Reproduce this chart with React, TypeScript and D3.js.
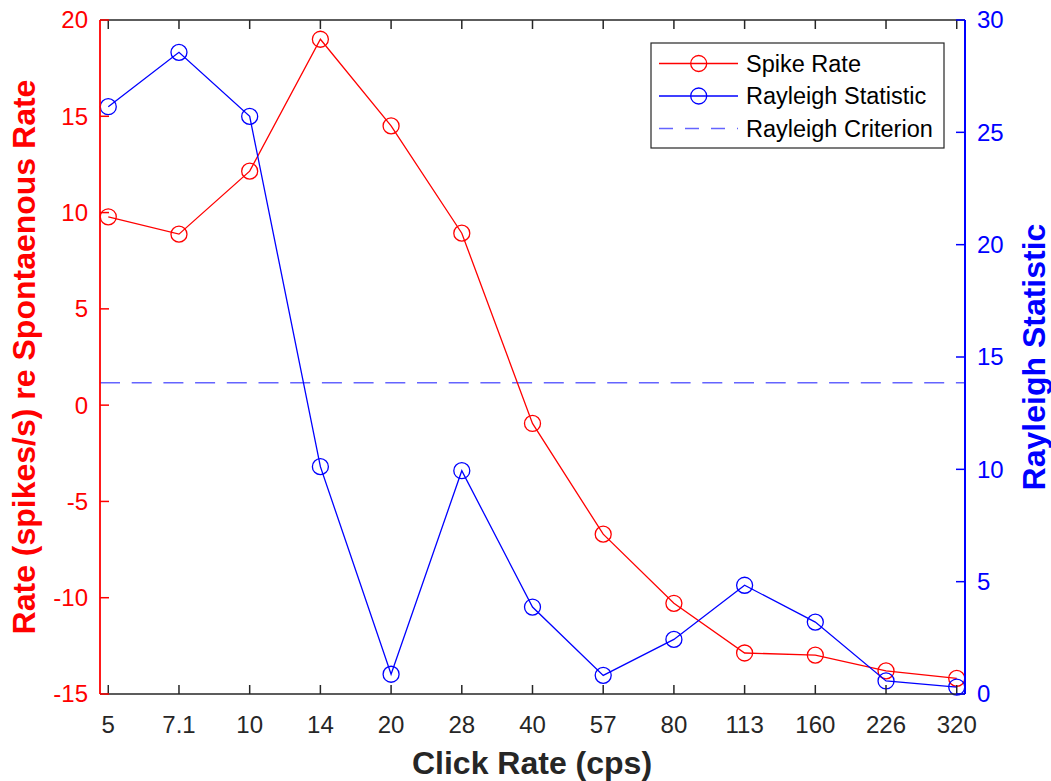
import React from "react";
import * as d3 from "d3";

// Click rates (cps) on a categorical axis
const clickRates = ["5", "7.1", "10", "14", "20", "28", "40", "57", "80", "113", "160", "226", "320"];
// Driven rate relative to spontaneous rate (spikes/s), left axis
const spikeRate = [9.78, 8.88, 12.15, 19.0, 14.5, 8.93, -0.95, -6.7, -10.29, -12.87, -12.98, -13.8, -14.19];
// Rayleigh statistic of phase locking, right axis
const rayleighStat = [26.14, 28.56, 25.71, 10.12, 0.88, 9.94, 3.87, 0.83, 2.43, 4.84, 3.2, 0.58, 0.31];
// Significance criterion for the Rayleigh statistic
const rayleighCriterion = 13.85;

const leftTicks = [-15, -10, -5, 0, 5, 10, 15, 20];
const rightTicks = [0, 5, 10, 15, 20, 25, 30];

const legendItems = [
  { label: "Spike Rate", color: "#ff0000", dashed: false },
  { label: "Rayleigh Statistic", color: "#0000ff", dashed: false },
  { label: "Rayleigh Criterion", color: "#6464ff", dashed: true },
];

const W = 1051;
const H = 781;
const L = 100;
const R = 965;
const T = 20;
const B = 694;
const FONT = "'Liberation Sans', Arial, Helvetica, sans-serif";
const AXIS_GREY = "#262626";

export default function App() {
  const x = d3.scaleLinear().domain([-0.117, clickRates.length - 1 + 0.117]).range([L, R]);
  const yL = d3.scaleLinear().domain([-15, 20]).range([B, T]);
  const yR = d3.scaleLinear().domain([0, 30]).range([B, T]);

  const spikeLine = d3
    .line<number>()
    .x((_, i) => x(i))
    .y((d) => yL(d));
  const rayLine = d3
    .line<number>()
    .x((_, i) => x(i))
    .y((d) => yR(d));

  return (
    <svg
      width={W}
      height={H}
      viewBox={`0 0 ${W} ${H}`}
      style={{ position: "absolute", left: 0, top: 0, background: "#fff" }}
      fontFamily={FONT}
    >
      <rect x={0} y={0} width={W} height={H} fill="#fff" />

      {/* criterion line */}
      <line
        x1={L}
        x2={R}
        y1={yR(rayleighCriterion)}
        y2={yR(rayleighCriterion)}
        stroke="#6464ff"
        strokeWidth={1.5}
        strokeDasharray="20 11.7"
      />

      {/* spike rate series */}
      <path d={spikeLine(spikeRate) || ""} fill="none" stroke="#ff0000" strokeWidth={1.3} />
      {spikeRate.map((v, i) => (
        <circle key={`s${i}`} cx={x(i)} cy={yL(v)} r={8} fill="none" stroke="#ff0000" strokeWidth={1.3} />
      ))}

      {/* Rayleigh statistic series */}
      <path d={rayLine(rayleighStat) || ""} fill="none" stroke="#0000ff" strokeWidth={1.3} />
      {rayleighStat.map((v, i) => (
        <circle key={`r${i}`} cx={x(i)} cy={yR(v)} r={8} fill="none" stroke="#0000ff" strokeWidth={1.3} />
      ))}

      {/* top and bottom axes */}
      <line x1={L} x2={R} y1={B} y2={B} stroke={AXIS_GREY} strokeWidth={1.5} />
      <line x1={L} x2={R} y1={T} y2={T} stroke={AXIS_GREY} strokeWidth={1.5} />
      {clickRates.map((c, i) => (
        <g key={`xt${i}`}>
          <line x1={x(i)} x2={x(i)} y1={B} y2={B - 9} stroke={AXIS_GREY} strokeWidth={1.5} />
          <line x1={x(i)} x2={x(i)} y1={T} y2={T + 9} stroke={AXIS_GREY} strokeWidth={1.5} />
          <text x={x(i)} y={733} textAnchor="middle" fontSize={24} fill={AXIS_GREY}>
            {c}
          </text>
        </g>
      ))}

      {/* left axis */}
      <line x1={L} x2={L} y1={T} y2={B} stroke="#ff0000" strokeWidth={1.8} />
      {leftTicks.map((t) => (
        <g key={`lt${t}`}>
          <line x1={L} x2={L + 9} y1={yL(t)} y2={yL(t)} stroke="#ff0000" strokeWidth={1.5} />
          <text x={88} y={yL(t)} dy="0.35em" textAnchor="end" fontSize={24} fill="#ff0000">
            {t}
          </text>
        </g>
      ))}

      {/* right axis */}
      <line x1={R} x2={R} y1={T} y2={B} stroke="#0000ff" strokeWidth={2} />
      {rightTicks.map((t) => (
        <g key={`rt${t}`}>
          <line x1={R} x2={R - 9} y1={yR(t)} y2={yR(t)} stroke="#0000ff" strokeWidth={1.5} />
          <text x={977} y={yR(t)} dy="0.35em" textAnchor="start" fontSize={24} fill="#0000ff">
            {t}
          </text>
        </g>
      ))}

      {/* axis titles */}
      <text x={532} y={774} textAnchor="middle" fontSize={32} fontWeight="bold" fill={AXIS_GREY}>
        Click Rate (cps)
      </text>
      <text
        transform={`translate(35, ${(T + B) / 2}) rotate(-90)`}
        textAnchor="middle"
        fontSize={32}
        fontWeight="bold"
        fill="#ff0000"
      >
        Rate (spikes/s) re Spontaenous Rate
      </text>
      <text
        transform={`translate(1045, ${(T + B) / 2}) rotate(-90)`}
        textAnchor="middle"
        fontSize={32}
        fontWeight="bold"
        fill="#0000ff"
      >
        Rayleigh Statistic
      </text>

      {/* legend */}
      <g>
        <rect x={651} y={43} width={293} height={105} fill="#fff" stroke={AXIS_GREY} strokeWidth={1.2} />
        {legendItems.map((it, i) => {
          const yy = 63.5 + i * 32.5;
          return (
            <g key={it.label}>
              <line
                x1={659}
                x2={738}
                y1={yy}
                y2={yy}
                stroke={it.color}
                strokeWidth={it.dashed ? 1.5 : 1.3}
                strokeDasharray={it.dashed ? "14 12" : undefined}
              />
              {!it.dashed && (
                <circle cx={698.7} cy={yy} r={8} fill="none" stroke={it.color} strokeWidth={1.3} />
              )}
              <text x={746} y={yy} dy="0.35em" fontSize={23.5} fill="#000">
                {it.label}
              </text>
            </g>
          );
        })}
      </g>
    </svg>
  );
}
